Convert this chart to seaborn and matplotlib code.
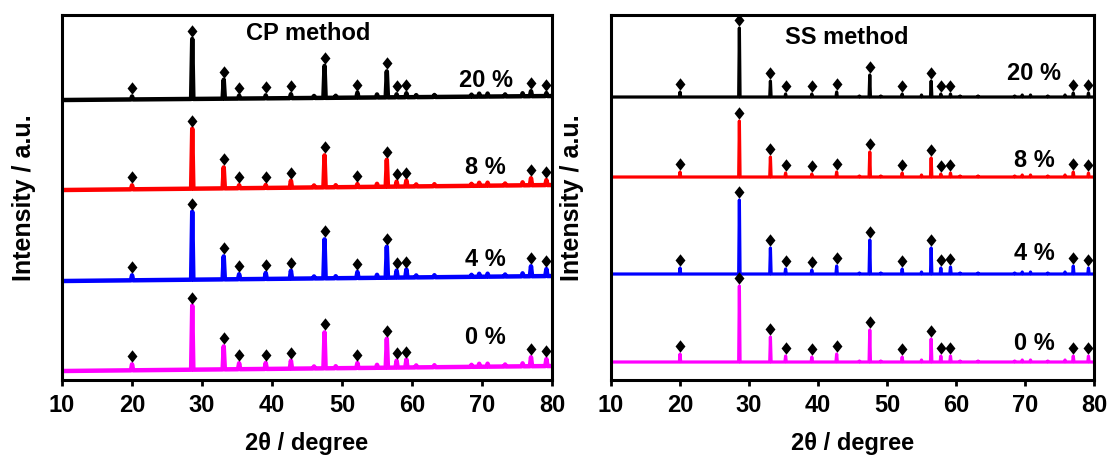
import numpy as np
import pandas as pd
import matplotlib
matplotlib.use("Agg")
import matplotlib.pyplot as plt
from matplotlib.markers import MarkerStyle
from matplotlib.transforms import Affine2D
import seaborn as sns

# Indexed reflections (2theta, degrees) marked with diamonds
peak_pos = [20.0, 28.6, 33.1, 35.3, 39.1, 42.7, 47.5, 52.2, 56.4, 57.8, 59.2, 77.0, 79.2]
# Weak unmarked reflections
minor_pos = [46.0, 49.1, 55.0, 60.6, 63.2, 68.5, 69.6, 70.8, 73.3, 75.8]

samples = ["20 %", "8 %", "4 %", "0 %"]
colors = ["#000000", "#ff0000", "#0000ff", "#ff00ff"]

# CP method: peak intensities (a.u.) for 20 %, 8 %, 4 %, 0 %
cp_20 = [3, 60, 19, 3, 3, 4, 32, 5, 26, 3, 4, 5, 3]
cp_8 = [4, 60, 21, 3, 3, 7, 32, 3, 27, 5, 6, 7, 5]
cp_4 = [5, 68, 23, 5, 6, 8, 39, 6, 31, 7, 8, 10, 7]
cp_0 = [6, 64, 23, 6, 6, 8, 36, 5, 29, 7, 8, 9, 7]
cp_minor = [2, 2, 3, 2, 2, 2, 3, 3, 2, 3]
cp_base_start = [280, 190, 99, 9]
cp_base_end = [284, 195, 104, 14]

# SS method: peak intensities (a.u.) for 20 %, 8 %, 4 %, 0 %
ss_20 = [5, 69, 16, 3, 3, 5, 22, 3, 16, 3, 3, 4, 4]
ss_8 = [5, 56, 20, 4, 3, 5, 25, 4, 19, 3, 4, 5, 4]
ss_4 = [6, 74, 26, 5, 4, 8, 34, 5, 26, 6, 7, 8, 6]
ss_0 = [8, 76, 25, 6, 5, 8, 32, 5, 23, 6, 6, 6, 6]
ss_minor = [1, 1, 2, 1, 1, 1, 2, 2, 1, 2]
ss_base_start = [283, 203, 106, 18]
ss_base_end = [283, 203, 106, 18]

x_ticks = [10, 20, 30, 40, 50, 60, 70, 80]


def build_pattern(heights, minor, b0, b1, half_width):
    """Stick-like diffraction trace on a linear background."""
    def base(x):
        return b0 + (b1 - b0) * (x - 10.0) / 70.0

    peaks = sorted(list(zip(peak_pos, heights)) + list(zip(minor_pos, minor)))
    xs, ys = [10.0], [base(10.0)]
    for p, h in peaks:
        xs += [p - half_width, p, p + half_width]
        ys += [base(p - half_width), base(p) + h, base(p + half_width)]
    xs.append(80.0)
    ys.append(base(80.0))
    line = pd.DataFrame({"two_theta": xs, "intensity": ys})
    marks = pd.DataFrame({"two_theta": peak_pos,
                          "intensity": [base(p) + h + 8 for p, h in zip(peak_pos, heights)]})
    return line, marks


sns.set_style("ticks")
plt.rcParams["font.family"] = ["Liberation Sans", "DejaVu Sans"]
plt.rcParams["font.weight"] = "bold"
plt.rcParams["text.color"] = "black"
plt.rcParams["axes.labelcolor"] = "black"
plt.rcParams["xtick.color"] = "black"
plt.rcParams["axes.edgecolor"] = "black"

fig = plt.figure(figsize=(11.12, 4.55), dpi=100)
ax_cp = fig.add_axes([0.0558, 0.1648, 0.4406, 0.8022])
ax_ss = fig.add_axes([0.5495, 0.1648, 0.4343, 0.8022])

diamond = MarkerStyle("D", transform=Affine2D().scale(0.8, 1.0))

panels = [
    (ax_cp, "CP method", [cp_20, cp_8, cp_4, cp_0], cp_minor, cp_base_start, cp_base_end,
     3.2, 0.16, (45.2, 347), 70.5, [300, 213, 121, 43], -0.054),
    (ax_ss, "SS method", [ss_20, ss_8, ss_4, ss_0], ss_minor, ss_base_start, ss_base_end,
     2.3, 0.10, (44.2, 343), 71.3, [307, 220, 127, 37], -0.055),
]

for (ax, title, series, minor, b0s, b1s, lw, hw, title_xy, lab_x, lab_y, ylab_x) in panels:
    for heights, b0, b1, color, name, ly in zip(series, b0s, b1s, colors, samples, lab_y):
        line, marks = build_pattern(heights, minor, b0, b1, hw)
        sns.lineplot(data=line, x="two_theta", y="intensity", ax=ax, color=color,
                     linewidth=lw, sort=False, estimator=None)
        sns.scatterplot(data=marks, x="two_theta", y="intensity", ax=ax, color="black",
                        marker=diamond, s=40, linewidth=0, zorder=5)
        ax.text(lab_x, ly, name, ha="center", va="center", fontsize=17, fontweight="bold")
    ax.text(title_xy[0], title_xy[1], title, ha="center", va="center",
            fontsize=17, fontweight="bold")

    ax.set_xlim(10, 80)
    ax.set_ylim(0, 365)
    ax.set_xticks(x_ticks)
    ax.set_xticklabels([str(t) for t in x_ticks], fontsize=17, fontweight="bold")
    ax.set_yticks([])
    ax.tick_params(axis="x", direction="out", length=4, width=2, pad=6)
    for sp in ax.spines.values():
        sp.set_visible(True)
        sp.set_linewidth(2.2)
        sp.set_color("black")
    ax.set_xlabel("2θ / degree", fontsize=17, fontweight="bold", labelpad=11)
    ax.set_ylabel("Intensity / a.u.", fontsize=18, fontweight="bold")
    ax.yaxis.set_label_coords(ylab_x, 0.5)

fig.savefig("out.png", dpi=100)
